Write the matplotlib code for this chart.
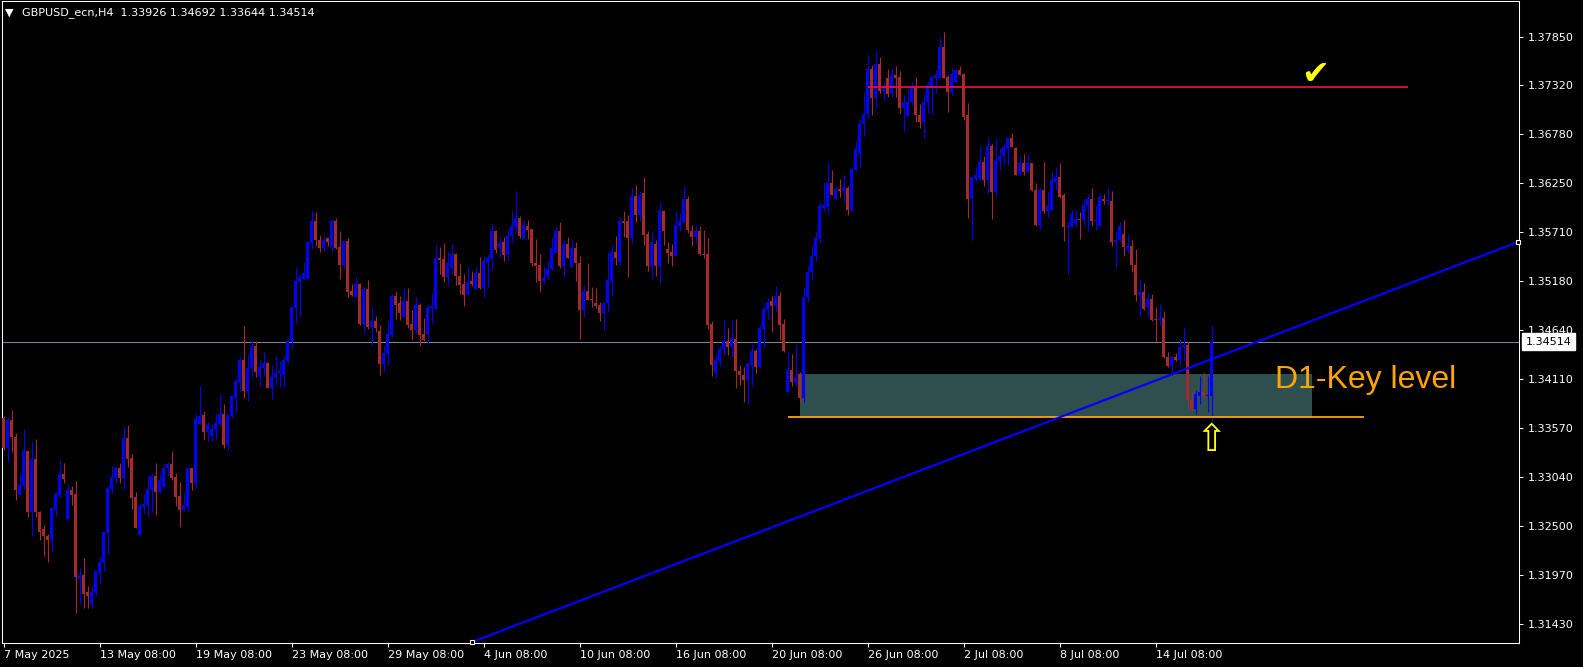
import matplotlib.pyplot as plt
from matplotlib.patches import Rectangle
from matplotlib.transforms import blended_transform_factory
import numpy as np

# GBPUSD_ecn H4, one value per bar, bar 0 = 7 May 08:00
opens = [
    1.3368, 1.3335, 1.3366, 1.3347, 1.3284, 1.3294, 1.3332, 1.3265, 1.3323, 1.3265,
    1.3247, 1.3239, 1.3235, 1.3268, 1.3284, 1.3307, 1.3258, 1.3289, 1.3285, 1.3192,
    1.3196, 1.3178, 1.3165, 1.3177, 1.3199, 1.3210, 1.3242, 1.3291, 1.3302, 1.3314,
    1.3303, 1.3346, 1.3324, 1.3282, 1.3240, 1.3271, 1.3273, 1.3289, 1.3305, 1.3287,
    1.3293, 1.3313, 1.3318, 1.3304, 1.3283, 1.3268, 1.3271, 1.3313, 1.3297, 1.3362,
    1.3371, 1.3353, 1.3348, 1.3355, 1.3362, 1.3373, 1.3339, 1.3370, 1.3390, 1.3408,
    1.3431, 1.3398, 1.3423, 1.3447, 1.3414, 1.3423, 1.3428, 1.3401, 1.3413, 1.3417,
    1.3415, 1.3430, 1.3451, 1.3488, 1.3517, 1.3520, 1.3520, 1.3559, 1.3583, 1.3563,
    1.3554, 1.3565, 1.3555, 1.3583, 1.3555, 1.3535, 1.3562, 1.3507, 1.3500, 1.3515,
    1.3471, 1.3509, 1.3468, 1.3474, 1.3463, 1.3427, 1.3438, 1.3459, 1.3502, 1.3494,
    1.3479, 1.3496, 1.3471, 1.3464, 1.3492, 1.3460, 1.3460, 1.3488, 1.3487, 1.3543,
    1.3542, 1.3522, 1.3532, 1.3547, 1.3523, 1.3515, 1.3504, 1.3518, 1.3509, 1.3527,
    1.3510, 1.3539, 1.3542, 1.3572, 1.3554, 1.3560, 1.3546, 1.3567, 1.3577, 1.3587,
    1.3564, 1.3578, 1.3575, 1.3537, 1.3535, 1.3518, 1.3522, 1.3531, 1.3548, 1.3573,
    1.3534, 1.3558, 1.3533, 1.3554, 1.3537, 1.3486, 1.3507, 1.3498, 1.3494, 1.3492,
    1.3483, 1.3494, 1.3518, 1.3550, 1.3539, 1.3583, 1.3583, 1.3565, 1.3611, 1.3590,
    1.3614, 1.3569, 1.3534, 1.3558, 1.3534, 1.3594, 1.3553, 1.3550, 1.3545, 1.3578,
    1.3582, 1.3608, 1.3572, 1.3566, 1.3573, 1.3547, 1.3547, 1.3471, 1.3417, 1.3430,
    1.3443, 1.3452, 1.3446, 1.3455, 1.3419, 1.3415, 1.3410, 1.3426, 1.3441, 1.3424,
    1.3465, 1.3486, 1.3496, 1.3490, 1.3502, 1.3471, 1.3396, 1.3421, 1.3408, 1.3416,
    1.3390, 1.3500, 1.3528, 1.3545, 1.3565, 1.3598, 1.3599, 1.3625, 1.3608, 1.3618,
    1.3616, 1.3620, 1.3596, 1.3639, 1.3658, 1.3689, 1.3700, 1.3750, 1.3718, 1.3755,
    1.3726, 1.3740, 1.3723, 1.3743, 1.3741, 1.3707, 1.3698, 1.3713, 1.3729, 1.3699,
    1.3692, 1.3713, 1.3730, 1.3740, 1.3740, 1.3774, 1.3741, 1.3724, 1.3735, 1.3749,
    1.3744, 1.3699, 1.3607, 1.3629, 1.3629, 1.3648, 1.3628, 1.3665, 1.3615, 1.3649,
    1.3654, 1.3662, 1.3674, 1.3663, 1.3634, 1.3647, 1.3637, 1.3647, 1.3617, 1.3579,
    1.3617, 1.3594, 1.3596, 1.3626, 1.3632, 1.3612, 1.3577, 1.3577, 1.3581, 1.3586,
    1.3585, 1.3600, 1.3608, 1.3583, 1.3578, 1.3608, 1.3605, 1.3605, 1.3560, 1.3563,
    1.3569, 1.3553, 1.3556, 1.3535, 1.3503, 1.3506, 1.3489, 1.3498, 1.3476, 1.3475,
    1.3477, 1.3435, 1.3425, 1.3435, 1.3431, 1.3446, 1.3448, 1.3388, 1.3378, 1.3392,
    1.3397, 1.3392, 1.33926]
highs = [
    1.3370, 1.3369, 1.3377, 1.3352, 1.3307, 1.3356, 1.3332, 1.3342, 1.3345, 1.3267,
    1.3251, 1.3241, 1.3271, 1.3287, 1.3322, 1.3319, 1.3295, 1.3294, 1.3299, 1.3204,
    1.3215, 1.3185, 1.3185, 1.3201, 1.3216, 1.3244, 1.3294, 1.3316, 1.3316, 1.3319,
    1.3358, 1.3361, 1.3329, 1.3287, 1.3274, 1.3286, 1.3305, 1.3308, 1.3319, 1.3308,
    1.3318, 1.3320, 1.3332, 1.3308, 1.3298, 1.3286, 1.3314, 1.3314, 1.3373, 1.3403,
    1.3376, 1.3364, 1.3360, 1.3373, 1.3394, 1.3383, 1.3373, 1.3393, 1.3412, 1.3435,
    1.3469, 1.3438, 1.3452, 1.3452, 1.3432, 1.3440, 1.3429, 1.3426, 1.3436, 1.3430,
    1.3436, 1.3454, 1.3491, 1.3533, 1.3525, 1.3539, 1.3561, 1.3594, 1.3593, 1.3568,
    1.3568, 1.3565, 1.3586, 1.3587, 1.3572, 1.3562, 1.3565, 1.3515, 1.3522, 1.3516,
    1.3511, 1.3519, 1.3489, 1.3480, 1.3470, 1.3447, 1.3474, 1.3504, 1.3507, 1.3502,
    1.3510, 1.3510, 1.3486, 1.3500, 1.3494, 1.3477, 1.3492, 1.3505, 1.3557, 1.3555,
    1.3559, 1.3550, 1.3558, 1.3549, 1.3537, 1.3526, 1.3533, 1.3529, 1.3533, 1.3544,
    1.3545, 1.3546, 1.3580, 1.3574, 1.3566, 1.3566, 1.3574, 1.3594, 1.3616, 1.3589,
    1.3585, 1.3584, 1.3575, 1.3564, 1.3547, 1.3534, 1.3540, 1.3565, 1.3578, 1.3582,
    1.3563, 1.3566, 1.3563, 1.3561, 1.3545, 1.3513, 1.3537, 1.3511, 1.3510, 1.3495,
    1.3495, 1.3550, 1.3557, 1.3567, 1.3588, 1.3594, 1.3590, 1.3620, 1.3623, 1.3616,
    1.3632, 1.3572, 1.3571, 1.3563, 1.3604, 1.3596, 1.3561, 1.3558, 1.3593, 1.3592,
    1.3622, 1.3611, 1.3579, 1.3579, 1.3578, 1.3574, 1.3565, 1.3474, 1.3438, 1.3447,
    1.3475, 1.3467, 1.3475, 1.3476, 1.3426, 1.3424, 1.3429, 1.3449, 1.3444, 1.3470,
    1.3491, 1.3499, 1.3501, 1.3512, 1.3506, 1.3476, 1.3441, 1.3438, 1.3448, 1.3418,
    1.3510, 1.3535, 1.3556, 1.3573, 1.3603, 1.3626, 1.3648, 1.3639, 1.3622, 1.3629,
    1.3634, 1.3622, 1.3643, 1.3671, 1.3695, 1.3724, 1.3765, 1.3754, 1.3770, 1.3763,
    1.3735, 1.3750, 1.3751, 1.3753, 1.3747, 1.3721, 1.3728, 1.3735, 1.3741, 1.3711,
    1.3722, 1.3736, 1.3741, 1.3749, 1.3783, 1.3790, 1.3743, 1.3751, 1.3750, 1.3753,
    1.3745, 1.3712, 1.3632, 1.3643, 1.3665, 1.3654, 1.3675, 1.3668, 1.3674, 1.3663,
    1.3668, 1.3675, 1.3680, 1.3664, 1.3653, 1.3657, 1.3657, 1.3647, 1.3625, 1.3621,
    1.3648, 1.3616, 1.3637, 1.3643, 1.3647, 1.3614, 1.3582, 1.3597, 1.3595, 1.3593,
    1.3607, 1.3613, 1.3619, 1.3601, 1.3613, 1.3613, 1.3619, 1.3616, 1.3572, 1.3582,
    1.3585, 1.3569, 1.3563, 1.3553, 1.3520, 1.3516, 1.3504, 1.3504, 1.3489, 1.3493,
    1.3485, 1.3440, 1.3436, 1.3439, 1.3454, 1.3466, 1.3451, 1.3396, 1.3399, 1.3414,
    1.3417, 1.3414, 1.34692]
lows = [
    1.3333, 1.3321, 1.3331, 1.3279, 1.3284, 1.3291, 1.3260, 1.3239, 1.3260, 1.3235,
    1.3217, 1.3211, 1.3222, 1.3261, 1.3282, 1.3297, 1.3257, 1.3273, 1.3155, 1.3165,
    1.3161, 1.3161, 1.3161, 1.3174, 1.3188, 1.3201, 1.3220, 1.3286, 1.3297, 1.3297,
    1.3290, 1.3315, 1.3269, 1.3248, 1.3240, 1.3264, 1.3261, 1.3265, 1.3262, 1.3286,
    1.3292, 1.3305, 1.3300, 1.3272, 1.3249, 1.3267, 1.3267, 1.3289, 1.3292, 1.3362,
    1.3344, 1.3343, 1.3343, 1.3345, 1.3359, 1.3335, 1.3333, 1.3368, 1.3375, 1.3398,
    1.3390, 1.3387, 1.3414, 1.3413, 1.3403, 1.3415, 1.3401, 1.3389, 1.3404, 1.3402,
    1.3402, 1.3428, 1.3443, 1.3472, 1.3480, 1.3520, 1.3520, 1.3553, 1.3556, 1.3550,
    1.3551, 1.3556, 1.3550, 1.3553, 1.3520, 1.3532, 1.3500, 1.3501, 1.3500, 1.3470,
    1.3461, 1.3465, 1.3448, 1.3462, 1.3415, 1.3418, 1.3426, 1.3457, 1.3476, 1.3475,
    1.3479, 1.3467, 1.3453, 1.3461, 1.3447, 1.3452, 1.3450, 1.3472, 1.3486, 1.3526,
    1.3517, 1.3514, 1.3526, 1.3514, 1.3504, 1.3491, 1.3502, 1.3512, 1.3509, 1.3509,
    1.3500, 1.3511, 1.3530, 1.3549, 1.3544, 1.3540, 1.3541, 1.3561, 1.3570, 1.3565,
    1.3564, 1.3564, 1.3534, 1.3517, 1.3506, 1.3515, 1.3520, 1.3530, 1.3548, 1.3532,
    1.3523, 1.3543, 1.3533, 1.3518, 1.3455, 1.3479, 1.3497, 1.3489, 1.3488, 1.3474,
    1.3464, 1.3485, 1.3501, 1.3535, 1.3535, 1.3566, 1.3522, 1.3559, 1.3582, 1.3583,
    1.3557, 1.3529, 1.3521, 1.3523, 1.3516, 1.3557, 1.3537, 1.3534, 1.3545, 1.3573,
    1.3581, 1.3570, 1.3556, 1.3559, 1.3546, 1.3543, 1.3465, 1.3414, 1.3412, 1.3425,
    1.3437, 1.3437, 1.3435, 1.3401, 1.3404, 1.3386, 1.3383, 1.3403, 1.3417, 1.3423,
    1.3446, 1.3476, 1.3462, 1.3485, 1.3453, 1.3440, 1.3396, 1.3403, 1.3403, 1.3384,
    1.3386, 1.3495, 1.3520, 1.3540, 1.3559, 1.3594, 1.3591, 1.3612, 1.3608, 1.3610,
    1.3605, 1.3590, 1.3594, 1.3638, 1.3642, 1.3676, 1.3696, 1.3699, 1.3707, 1.3723,
    1.3715, 1.3719, 1.3719, 1.3719, 1.3702, 1.3682, 1.3698, 1.3710, 1.3692, 1.3685,
    1.3674, 1.3702, 1.3700, 1.3723, 1.3740, 1.3740, 1.3703, 1.3721, 1.3734, 1.3743,
    1.3694, 1.3587, 1.3563, 1.3627, 1.3627, 1.3622, 1.3614, 1.3586, 1.3611, 1.3639,
    1.3645, 1.3645, 1.3664, 1.3634, 1.3634, 1.3634, 1.3637, 1.3616, 1.3578, 1.3574,
    1.3592, 1.3588, 1.3596, 1.3617, 1.3609, 1.3562, 1.3525, 1.3577, 1.3577, 1.3564,
    1.3579, 1.3573, 1.3578, 1.3574, 1.3578, 1.3602, 1.3601, 1.3556, 1.3533, 1.3561,
    1.3545, 1.3548, 1.3528, 1.3496, 1.3480, 1.3486, 1.3479, 1.3474, 1.3451, 1.3470,
    1.3434, 1.3424, 1.3416, 1.3430, 1.3425, 1.3431, 1.3380, 1.3376, 1.3373, 1.3383,
    1.3390, 1.3375, 1.33644]
closes = [
    1.3335, 1.3366, 1.3347, 1.3289, 1.3295, 1.3332, 1.3265, 1.3323, 1.3265, 1.3243,
    1.3239, 1.3235, 1.3270, 1.3285, 1.3307, 1.3301, 1.3289, 1.3284, 1.3194, 1.3196,
    1.3176, 1.3174, 1.3178, 1.3201, 1.3211, 1.3243, 1.3292, 1.3304, 1.3314, 1.3303,
    1.3346, 1.3323, 1.3281, 1.3248, 1.3272, 1.3274, 1.3290, 1.3305, 1.3287, 1.3300,
    1.3314, 1.3318, 1.3303, 1.3282, 1.3268, 1.3273, 1.3313, 1.3297, 1.3367, 1.3370,
    1.3353, 1.3360, 1.3356, 1.3363, 1.3373, 1.3339, 1.3371, 1.3392, 1.3409, 1.3431,
    1.3398, 1.3423, 1.3447, 1.3418, 1.3424, 1.3428, 1.3401, 1.3413, 1.3417, 1.3419,
    1.3432, 1.3452, 1.3489, 1.3518, 1.3522, 1.3527, 1.3561, 1.3583, 1.3563, 1.3554,
    1.3563, 1.3560, 1.3583, 1.3554, 1.3535, 1.3562, 1.3506, 1.3503, 1.3515, 1.3471,
    1.3509, 1.3468, 1.3474, 1.3467, 1.3427, 1.3439, 1.3460, 1.3502, 1.3492, 1.3483,
    1.3496, 1.3470, 1.3464, 1.3492, 1.3459, 1.3453, 1.3489, 1.3491, 1.3543, 1.3541,
    1.3522, 1.3537, 1.3547, 1.3523, 1.3514, 1.3503, 1.3517, 1.3515, 1.3527, 1.3510,
    1.3540, 1.3543, 1.3572, 1.3552, 1.3559, 1.3546, 1.3567, 1.3578, 1.3587, 1.3567,
    1.3579, 1.3574, 1.3537, 1.3534, 1.3518, 1.3521, 1.3531, 1.3554, 1.3573, 1.3534,
    1.3558, 1.3543, 1.3554, 1.3537, 1.3486, 1.3507, 1.3497, 1.3497, 1.3490, 1.3483,
    1.3494, 1.3519, 1.3550, 1.3543, 1.3583, 1.3581, 1.3565, 1.3611, 1.3590, 1.3612,
    1.3568, 1.3534, 1.3560, 1.3534, 1.3594, 1.3573, 1.3549, 1.3545, 1.3579, 1.3583,
    1.3608, 1.3574, 1.3566, 1.3573, 1.3547, 1.3546, 1.3470, 1.3426, 1.3431, 1.3443,
    1.3452, 1.3446, 1.3456, 1.3419, 1.3415, 1.3410, 1.3427, 1.3441, 1.3424, 1.3467,
    1.3487, 1.3495, 1.3490, 1.3502, 1.3470, 1.3441, 1.3421, 1.3408, 1.3413, 1.3390,
    1.3500, 1.3528, 1.3545, 1.3565, 1.3600, 1.3601, 1.3625, 1.3612, 1.3618, 1.3616,
    1.3621, 1.3596, 1.3640, 1.3662, 1.3690, 1.3700, 1.3750, 1.3718, 1.3755, 1.3726,
    1.3729, 1.3722, 1.3743, 1.3740, 1.3707, 1.3713, 1.3713, 1.3729, 1.3699, 1.3692,
    1.3713, 1.3732, 1.3741, 1.3743, 1.3774, 1.3740, 1.3724, 1.3744, 1.3749, 1.3743,
    1.3697, 1.3607, 1.3631, 1.3634, 1.3648, 1.3628, 1.3665, 1.3615, 1.3650, 1.3654,
    1.3664, 1.3674, 1.3664, 1.3634, 1.3647, 1.3637, 1.3647, 1.3617, 1.3579, 1.3617,
    1.3594, 1.3600, 1.3628, 1.3632, 1.3610, 1.3577, 1.3578, 1.3591, 1.3586, 1.3584,
    1.3601, 1.3608, 1.3583, 1.3585, 1.3610, 1.3605, 1.3606, 1.3560, 1.3563, 1.3578,
    1.3555, 1.3556, 1.3535, 1.3503, 1.3506, 1.3487, 1.3498, 1.3475, 1.3475, 1.3477,
    1.3435, 1.3425, 1.3435, 1.3431, 1.3446, 1.3448, 1.3388, 1.3378, 1.3394, 1.3397,
    1.3392, 1.3393, 1.34514]

price_ticks = [1.37850, 1.37320, 1.36780, 1.36250, 1.35710, 1.35180, 1.34640,
               1.34110, 1.33570, 1.33040, 1.32500, 1.31970, 1.31430]
date_labels = ['7 May 2025', '13 May 08:00', '19 May 08:00', '23 May 08:00',
               '29 May 08:00', '4 Jun 08:00', '10 Jun 08:00', '16 Jun 08:00',
               '20 Jun 08:00', '26 Jun 08:00', '2 Jul 08:00', '8 Jul 08:00',
               '14 Jul 08:00']

# drawn objects: levels in price, extent in bars
last_price = 1.34514
resist_level = 1.37300
resist_bars = (216, 351)
zone_top, zone_bottom = 1.34162, 1.33695
zone_bars = (199, 327)
key_line_bars = (196, 340)
trend_bars = [117.1, 378.6]
trend_prices = [1.31233, 1.35605]

bull = '#0000FF'
bear = '#A52A2A'
o = np.array(opens); h = np.array(highs); l = np.array(lows); c = np.array(closes)
x = np.arange(len(c))

fig = plt.figure(figsize=(15.83, 6.67), dpi=100, facecolor='black')
ax = fig.add_axes([2.3/1583, 24/667, (1519-2.3)/1583, (643-1)/667])
ax.set_facecolor('black')

# key level zone and its base line
ax.add_patch(Rectangle((zone_bars[0], zone_bottom), zone_bars[1]-zone_bars[0],
                       zone_top-zone_bottom, fc='#2F4F4F', ec='none', zorder=1))
ax.axhline(last_price, color='#778899', lw=0.75, zorder=2)

# candles
cols = np.where(c >= o, bull, bear)
ax.vlines(x, l, h, colors=cols, lw=0.8, zorder=3)
ax.bar(x, np.maximum(np.abs(c-o), 0.00008), bottom=np.minimum(o, c), width=0.72,
       color=cols, lw=0, zorder=3)

ax.hlines(zone_bottom, key_line_bars[0], key_line_bars[1], colors='#FFA500', lw=1.3, zorder=4)
ax.hlines(resist_level, resist_bars[0], resist_bars[1], colors='#DC143C', lw=1.3, zorder=4)
ax.plot(trend_bars, trend_prices, color='#0000FF', lw=1.6, zorder=5)
ax.plot(trend_bars, trend_prices, 's', ms=3.5, mfc='black', mec='white', mew=0.8,
        zorder=6, clip_on=False)

ax.text(327.9, 1.37440, '\u2714', color='yellow', fontsize=24, ha='center', va='center')
ax.text(302, 1.33430, '\u21e7', color='yellow', fontsize=27, ha='center', va='center')
ax.text(317.9, 1.34006, 'D1-Key level', color='#FFA500', fontsize=23,
        family='Liberation Sans', ha='left', va='baseline')

ax.set_xlim(-0.33, 378.85)
ax.set_ylim(1.31222, 1.38239)

for s in ax.spines.values():
    s.set_color('white')
    s.set_linewidth(0.75)

ax.yaxis.tick_right()
ax.set_yticks(price_ticks)
ax.set_yticklabels(['%.5f' % p for p in price_ticks])
ax.set_xticks(np.arange(len(date_labels)) * 24)
ax.set_xticklabels(date_labels)
plt.setp(ax.get_xticklabels(), ha='left')
ax.tick_params(axis='y', colors='white', length=3, width=0.75, pad=3.5, labelsize=8)
ax.tick_params(axis='x', colors='white', length=3, width=0.75, pad=2, labelsize=8)

# last price box on the scale
tr = blended_transform_factory(ax.transAxes, ax.transData)
ax.text(1.0045, last_price, '%.5f' % last_price, transform=tr, ha='left', va='center',
        color='black', fontsize=8,
        bbox=dict(boxstyle='square,pad=0.3', fc='white', ec='white'))

fig.text(5/1583, 1-12.5/667, '\u25bc', color='white', fontsize=8, va='center')
fig.text(21.7/1583, 1-12.5/667, 'GBPUSD_ecn,H4  1.33926 1.34692 1.33644 1.34514',
         color='white', fontsize=8, va='center')

fig.savefig('out.png', dpi=100, facecolor='black')
